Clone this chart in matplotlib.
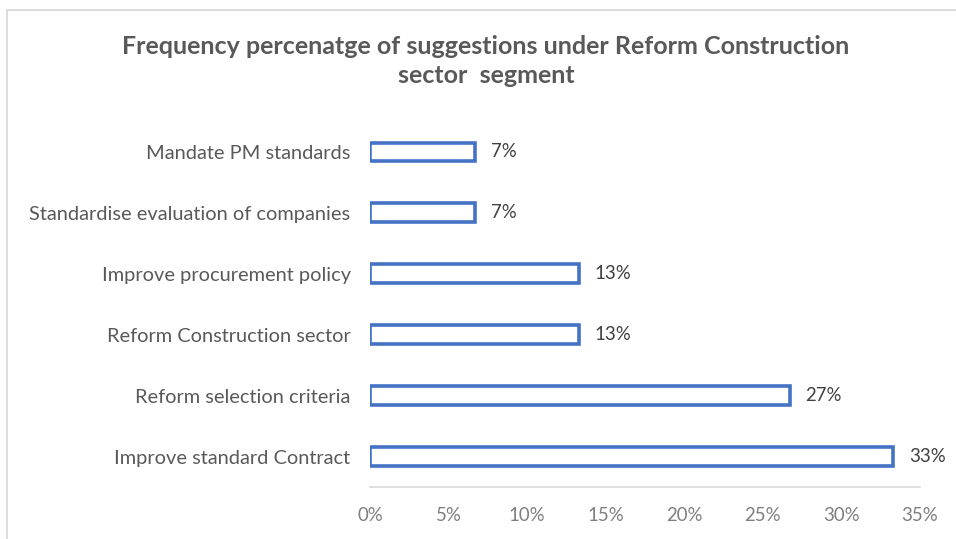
import matplotlib
matplotlib.use("Agg")
import matplotlib.pyplot as plt
from matplotlib.lines import Line2D

categories = [
    "Improve standard Contract",
    "Reform selection criteria",
    "Reform Construction sector",
    "Improve procurement policy",
    "Standardise evaluation of companies",
    "Mandate PM standards",
]
values = [33.3, 26.7, 13.3, 13.3, 6.7, 6.7]
xticks = [0, 5, 10, 15, 20, 25, 30, 35]
title = "Frequency percenatge of suggestions under Reform Construction\nsector  segment"

plt.rcParams["font.family"] = ["Lato", "DejaVu Sans"]

W, H = 956, 539
fig = plt.figure(figsize=(W / 100, H / 100), dpi=100)
ax = fig.add_axes([370 / W, 1 - 487 / H, (920 - 370) / W, (487 - 121.5) / H])

ypos = list(range(len(categories)))
ax.barh(ypos, values, height=0.31, color="white", edgecolor="#4472C4",
        linewidth=2.6)

for y, v in zip(ypos, values):
    ax.text(v + 1.0, y, f"{v:.0f}%", va="center", ha="left",
            fontsize=13.4, color="#404040")

ax.set_xlim(0, 35)
ax.set_ylim(-0.5, len(categories) - 0.5)
ax.set_xticks(xticks)
ax.set_xticklabels([f"{t}%" for t in xticks], fontsize=13.4, color="#7f7f7f")
ax.set_yticks(ypos)
ax.set_yticklabels(categories, fontsize=14.4, color="#595959")
ax.tick_params(axis="both", length=0)
ax.tick_params(axis="x", pad=14.5)
ax.tick_params(axis="y", pad=14)

for side in ("top", "right", "left"):
    ax.spines[side].set_visible(False)
ax.spines["bottom"].set_color("#d9d9d9")
ax.spines["bottom"].set_linewidth(1.2)

fig.text(486 / W, 1 - 61 / H, title, ha="center", va="center",
         fontsize=18, fontweight="bold", color="#595959", linespacing=1.35)

# chart-area frame (top and left edges)
fig.add_artist(Line2D([7 / W, 1], [1 - 10 / H, 1 - 10 / H], color="#d9d9d9",
                      linewidth=1.3, transform=fig.transFigure))
fig.add_artist(Line2D([7 / W, 7 / W], [0, 1 - 10 / H], color="#d9d9d9",
                      linewidth=1.3, transform=fig.transFigure))

fig.savefig("out.png", dpi=100, facecolor="white")
